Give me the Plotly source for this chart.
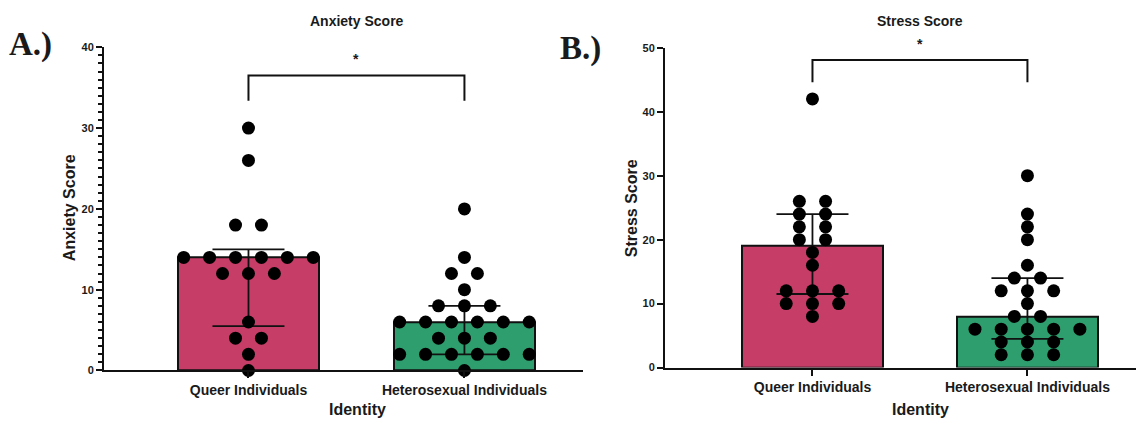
import numpy as np
import plotly.graph_objects as go

categories = ["Queer Individuals", "Heterosexual Individuals"]

anxiety_queer = [30, 26, 18, 18, 14, 14, 14, 14, 14, 14, 12, 12, 12, 6, 4, 4, 2, 0]
anxiety_hetero = [20, 14, 12, 12, 10, 8, 8, 8, 6, 6, 6, 6, 6, 6, 4, 4, 4,
                  2, 2, 2, 2, 2, 2, 0]
stress_queer = [42, 26, 26, 24, 24, 22, 22, 20, 20, 18, 16, 12, 12, 12, 10, 10, 10, 8]
stress_hetero = [30, 24, 22, 20, 16, 14, 14, 12, 12, 12, 10, 8, 8, 6, 6, 6, 6, 6,
                 4, 4, 4, 2, 2, 2]

anxiety_bracket = [33.4, 36.5]   # leg bottom, bracket top
stress_bracket = [44.6, 48.1]
anxiety_star = 38.6
stress_star = 50.6
anxiety_yticks = [0, 10, 20, 30, 40]
stress_yticks = [0, 10, 20, 30, 40, 50]
anxiety_range = [0, 40]
stress_range = [0, 50]

PINK = "#C63D68"
GREEN = "#2F9E6E"
FONT = "Arial, Liberation Sans, sans-serif"
SERIF = "Times New Roman, Liberation Serif, serif"
INK = "#111111"
TXT = "#1a1a1a"


def stats(vals):
    v = np.array(vals, float)
    med = np.median(v)
    q1 = np.percentile(v, 25, method="weibull")
    q3 = np.percentile(v, 75, method="weibull")
    return med, q1, q3


def swarm(vals, center, step):
    xs, ys = [], []
    v = np.array(vals)
    for u in sorted(set(vals), reverse=True):
        n = int((v == u).sum())
        for i in range(n):
            xs.append(center + (i - (n - 1) / 2) * step)
            ys.append(u)
    return xs, ys


fig = go.Figure()


def panel(groups, xa, ya, step, bracket, star, yrange):
    meds, ups, los = [], [], []
    for g in groups:
        m, q1, q3 = stats(g)
        meds.append(m)
        ups.append(q3 - m)
        los.append(m - q1)
    fig.add_trace(go.Bar(
        x=[0, 1], y=meds, width=0.653, xaxis=xa, yaxis=ya,
        marker=dict(color=[PINK, GREEN], line=dict(color=INK, width=2)),
        error_y=dict(type="data", symmetric=False, array=ups, arrayminus=los,
                     color=INK, thickness=1.8, width=36),
        showlegend=False, hoverinfo="skip"))
    for i, g in enumerate(groups):
        xs, ys = swarm(g, i, step)
        fig.add_trace(go.Scatter(
            x=xs, y=ys, mode="markers", xaxis=xa, yaxis=ya, cliponaxis=False,
            marker=dict(color="black", size=13, line=dict(width=0)),
            showlegend=False, hoverinfo="skip"))
    fig.add_trace(go.Scatter(
        x=[0, 0, 1, 1], y=[bracket[0], bracket[1], bracket[1], bracket[0]],
        mode="lines", xaxis=xa, yaxis=ya, cliponaxis=False,
        line=dict(color=INK, width=2), showlegend=False, hoverinfo="skip"))
    axis_id = ya.replace("y", "")
    fig.add_annotation(
        text="*", x=0.5, xref=xa, y=(star - yrange[0]) / (yrange[1] - yrange[0]),
        yref=f"y{axis_id} domain", showarrow=False, xanchor="center",
        yanchor="middle",
        font=dict(family=FONT, size=14, color=TXT, weight="bold"))


panel([anxiety_queer, anxiety_hetero], "x", "y", 0.12, anxiety_bracket,
      anxiety_star, anxiety_range)
panel([stress_queer, stress_hetero], "x2", "y2", 0.122, stress_bracket,
      stress_star, stress_range)

xcommon = dict(tickvals=[0, 1], ticktext=categories, ticks="outside", ticklen=6,
               tickwidth=2, tickcolor=INK, showline=True, linewidth=2,
               linecolor=INK, showgrid=False, zeroline=False,
               tickfont=dict(family=FONT, size=14, color=TXT, weight="bold"))
ycommon = dict(ticks="outside", ticklen=6, tickwidth=2, tickcolor=INK,
               showline=True, linewidth=2, linecolor=INK, showgrid=False,
               zeroline=False,
               tickfont=dict(family=FONT, size=11, color=TXT, weight="bold"))

fig.update_layout(
    width=1136, height=428, margin=dict(l=0, r=0, t=0, b=0),
    plot_bgcolor="white", paper_bgcolor="white", bargap=0,
    xaxis=dict(domain=[104 / 1136, 583 / 1136], range=[-0.669, 1.549],
               anchor="y", **xcommon),
    yaxis=dict(domain=[1 - 375 / 428, 1 - 42.5 / 428], range=anxiety_range,
               tickvals=anxiety_yticks, anchor="x",
               minor=dict(dtick=1, ticklen=4, tickwidth=1.5, tickcolor=INK,
                          ticks="outside"),
               **ycommon),
    xaxis2=dict(domain=[665 / 1136, 1.0], range=[-0.686, 1.505],
                anchor="y2", **xcommon),
    yaxis2=dict(domain=[1 - 372 / 428, 1 - 43 / 428], range=stress_range,
                tickvals=stress_yticks, anchor="x2", **ycommon),
)


def ann(text, x, y, size, angle=0, family=FONT):
    fig.add_annotation(text=text, x=x, y=y, xref="paper", yref="paper",
                       showarrow=False, textangle=angle, xanchor="center",
                       yanchor="middle",
                       font=dict(family=family, size=size, color=TXT,
                                 weight="bold"))


ann("Anxiety Score", 357 / 1136, 1 - 15 / 428, 14)
ann("Stress Score", 920 / 1136, 1 - 15 / 428, 14)
ann("Anxiety Score", 69 / 1136, 1 - 208 / 428, 16, angle=-90)
ann("Stress Score", 631 / 1136, 1 - 208 / 428, 16, angle=-90)
ann("Identity", 357 / 1136, 1 - 415 / 428, 16)
ann("Identity", 920 / 1136, 1 - 415 / 428, 16)
ann("A.)", 30 / 1136, 1 - 40 / 428, 33, family=SERIF)
ann("B.)", 580 / 1136, 1 - 44 / 428, 33, family=SERIF)

fig.write_html("out.html")
